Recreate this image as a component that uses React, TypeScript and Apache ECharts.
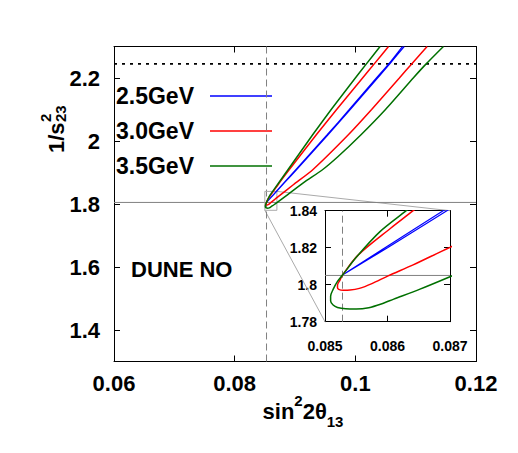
import React, { useEffect, useRef } from 'react';
import * as echarts from 'echarts';

// ---- data ----
const xTicks = [0.06, 0.08, 0.1, 0.12];
const yTicks = [1.4, 1.6, 1.8, 2.0, 2.2];
const insetXTicks = [0.085, 0.086, 0.087];
const insetYTicks = [1.78, 1.8, 1.82, 1.84];

const energies = ['2.5GeV', '3.0GeV', '3.5GeV'];
const colors = ['#0000ff', '#ff0000', '#007000'];

// 2.5 GeV: upper strand (top -> vertex) then lower strand (vertex -> top)
const curve25: number[][] = [
  [0.1078, 2.3], [0.1055, 2.244], [0.1035, 2.2], [0.099, 2.1], [0.0953, 2.019],
  [0.0901, 1.908], [0.0883, 1.87], [0.08689, 1.84], [0.08596, 1.82], [0.08528, 1.8052],
  [0.086, 1.82], [0.08695, 1.84], [0.08838, 1.87], [0.0902, 1.908], [0.09543, 2.019],
  [0.09915, 2.1], [0.10368, 2.2], [0.10568, 2.244], [0.1081, 2.3],
];

// 3.0 GeV
const curve30: number[][] = [
  [0.1055, 2.3], [0.1031, 2.244], [0.1012, 2.2], [0.0969, 2.1], [0.0935, 2.019],
  [0.089, 1.908], [0.0875, 1.87], [0.08641, 1.84], [0.08605, 1.8305], [0.08553, 1.816],
  [0.08528, 1.8052], [0.08524, 1.8025], [0.0852, 1.7998], [0.0852, 1.7984], [0.08522, 1.7975],
  [0.08529, 1.797], [0.0854, 1.7971], [0.08555, 1.798], [0.08575, 1.8006], [0.08601, 1.8048],
  [0.08641, 1.8107], [0.087, 1.8202], [0.08977, 1.862], [0.0929, 1.908], [0.0988, 2.019],
  [0.1027, 2.1], [0.1073, 2.2], [0.1093, 2.244], [0.1119, 2.3],
];

// 3.5 GeV
const curve35: number[][] = [
  [0.1041, 2.3], [0.1018, 2.244], [0.1, 2.2], [0.096, 2.1], [0.0929, 2.019],
  [0.0888, 1.908], [0.0874, 1.87], [0.0863, 1.84], [0.08588, 1.8287], [0.08551, 1.8152],
  [0.08528, 1.8052], [0.0852, 1.8018], [0.08513, 1.7975], [0.08509, 1.7938], [0.08509, 1.7912],
  [0.08513, 1.789], [0.0852, 1.7877], [0.08533, 1.787], [0.0855, 1.7869], [0.0857, 1.7876],
  [0.0859, 1.7896], [0.0861, 1.7922], [0.08652, 1.7976], [0.087, 1.8043], [0.0888, 1.83],
  [0.0916, 1.87], [0.0945, 1.908], [0.0971, 1.95], [0.1009, 2.019], [0.105, 2.1],
  [0.1096, 2.2], [0.1117, 2.244], [0.1146, 2.3],
];

const curves = [curve25, curve30, curve35];

const refY = 1.805; // solid horizontal line
const refX = 0.08528; // dashed vertical line
const boundY = 2.245; // dotted horizontal line
const mainRange = { x: [0.06, 0.12], y: [1.3, 2.3] };
const insetRange = { x: [0.085, 0.087], y: [1.78, 1.84] };

const FONT = '"Liberation Sans", Arial, Helvetica, sans-serif';

function valueAxis(grid: number, range: number[], ticks: number[], position: string, showLabel: boolean, fontSize: number, margin: number) {
  return {
    type: 'value',
    gridIndex: grid,
    min: range[0],
    max: range[1],
    position,
    axisLine: { show: true, onZero: false, lineStyle: { color: '#000', width: 1 } },
    axisTick: { show: true, inside: true, length: 6, customValues: ticks, lineStyle: { color: '#000', width: 1 } },
    axisLabel: {
      show: showLabel,
      customValues: ticks,
      margin,
      fontSize,
      fontWeight: 'bold',
      fontFamily: FONT,
      color: '#000',
      showMinLabel: true,
      showMaxLabel: true,
    },
    splitLine: { show: false },
    axisPointer: { show: false },
  };
}

function lineSeries(data: number[][], axis: number, color: string, width: number, type: any = 'solid', z = 3, smooth: any = false) {
  return {
    type: 'line',
    xAxisIndex: axis,
    yAxisIndex: axis,
    data,
    showSymbol: false,
    symbol: 'none',
    silent: true,
    clip: true,
    smooth,
    z,
    lineStyle: { color, width, type },
  };
}

export default function App() {
  const ref = useRef<HTMLDivElement>(null);
  useEffect(() => {
    const chart = echarts.init(ref.current!, null, { renderer: 'svg' });
    const series: any[] = [];
    // reference lines, main
    series.push(lineSeries([[mainRange.x[0], refY], [mainRange.x[1], refY]], 0, '#808080', 1, 'solid', 1));
    series.push(lineSeries([[refX, mainRange.y[0]], [refX, mainRange.y[1]]], 0, '#808080', 1, [7, 4], 1));
    series.push(lineSeries([[mainRange.x[0], boundY], [mainRange.x[1], boundY]], 0, '#000', 1.6, [3, 5], 1));
    series.push(lineSeries([
      [insetRange.x[0], insetRange.y[0]], [insetRange.x[1], insetRange.y[0]],
      [insetRange.x[1], insetRange.y[1]], [insetRange.x[0], insetRange.y[1]],
      [insetRange.x[0], insetRange.y[0]],
    ], 0, '#aaaaaa', 1, 'solid', 1));
    // reference lines, inset
    series.push(lineSeries([[insetRange.x[0], refY], [insetRange.x[1], refY]], 2, '#808080', 1, 'solid', 1));
    series.push(lineSeries([[refX, insetRange.y[0]], [refX, insetRange.y[1]]], 2, '#808080', 1, [7, 4], 1));
    curves.forEach((c, i) => {
      const w = i === 0 ? 1.2 : 1.5;
      series.push(lineSeries(c, 0, colors[i], w, 'solid', 3, 0.2));
      series.push(lineSeries(c, 2, colors[i], w, 'solid', 3, 0.3));
    });

    chart.setOption({
      animation: false,
      backgroundColor: '#fff',
      grid: [
        { left: 114, top: 46.5, width: 362, height: 315, outerBoundsMode: 'none', containLabel: false },
        { left: 325, top: 210.7, width: 125, height: 111, outerBoundsMode: 'none', containLabel: false },
      ],
      xAxis: [
        valueAxis(0, mainRange.x, xTicks, 'bottom', true, 22, 11),
        valueAxis(0, mainRange.x, xTicks, 'top', false, 22, 11),
        valueAxis(1, insetRange.x, insetXTicks, 'bottom', true, 14, 17),
        valueAxis(1, insetRange.x, insetXTicks, 'top', false, 14, 17),
      ],
      yAxis: [
        valueAxis(0, mainRange.y, yTicks, 'left', true, 22, 14),
        valueAxis(0, mainRange.y, yTicks, 'right', false, 22, 14),
        valueAxis(1, insetRange.y, insetYTicks, 'left', true, 14, 8),
        valueAxis(1, insetRange.y, insetYTicks, 'right', false, 14, 8),
      ],
      series,
    });

    const tr0 = chart.convertToPixel({ xAxisIndex: 0, yAxisIndex: 0 }, [insetRange.x[1], insetRange.y[1]]);
    const tr1 = chart.convertToPixel({ xAxisIndex: 2, yAxisIndex: 2 }, [insetRange.x[1], insetRange.y[1]]);
    const bl0 = chart.convertToPixel({ xAxisIndex: 0, yAxisIndex: 0 }, [insetRange.x[0], insetRange.y[0]]);
    const bl1 = chart.convertToPixel({ xAxisIndex: 2, yAxisIndex: 2 }, [insetRange.x[0], insetRange.y[0]]);

    const legendY = [96, 131, 166];
    const graphics: any[] = [
      { type: 'line', id: 'c1', z: 1, silent: true, shape: { x1: tr0[0], y1: tr0[1], x2: tr1[0], y2: tr1[1] }, style: { stroke: '#aaaaaa', lineWidth: 1 } },
      { type: 'line', id: 'c2', z: 1, silent: true, shape: { x1: bl0[0], y1: bl0[1], x2: bl1[0], y2: bl1[1] }, style: { stroke: '#aaaaaa', lineWidth: 1 } },
    ];
    energies.forEach((e, i) => {
      graphics.push({
        type: 'text', id: 'lt' + i, x: 116, y: legendY[i],
        style: { text: e, fill: '#000', font: `bold 23px ${FONT}`, textAlign: 'left', textVerticalAlign: 'middle' },
      });
      graphics.push({
        type: 'line', id: 'll' + i, shape: { x1: 210, y1: legendY[i], x2: 272, y2: legendY[i] },
        style: { stroke: colors[i], lineWidth: 1.5 },
      });
    });
    graphics.push({
      type: 'text', id: 'dune', x: 131, y: 269,
      style: { text: 'DUNE NO', fill: '#000', font: `bold 22px ${FONT}`, textAlign: 'left', textVerticalAlign: 'middle' },
    });
    graphics.push({
      type: 'text', id: 'xname', x: 303, y: 411,
      style: {
        text: '{a|sin}{s|2}{a|2θ}{b|13}',
        textAlign: 'center', textVerticalAlign: 'middle',
        rich: {
          a: { fontSize: 22, fontWeight: 'bold', fontFamily: FONT, lineHeight: 36, fill: '#000' },
          s: { fontSize: 15, fontWeight: 'bold', fontFamily: FONT, lineHeight: 22, verticalAlign: 'top', fill: '#000' },
          b: { fontSize: 15, fontWeight: 'bold', fontFamily: FONT, lineHeight: 14, verticalAlign: 'bottom', fill: '#000' },
        },
      },
    });
    graphics.push({
      type: 'group', id: 'yname', x: 55, y: 129, rotation: Math.PI / 2,
      children: [
        { type: 'text', x: -24, y: 1.5, style: { text: '1/s', fill: '#000', font: `bold 22px ${FONT}`, textAlign: 'left', textVerticalAlign: 'middle' } },
        { type: 'text', x: 7, y: -10, style: { text: '2', fill: '#000', font: `bold 15px ${FONT}`, textAlign: 'left', textVerticalAlign: 'middle' } },
        { type: 'text', x: 7, y: 5, style: { text: '23', fill: '#000', font: `bold 15px ${FONT}`, textAlign: 'left', textVerticalAlign: 'middle' } },
      ],
    });
    chart.setOption({ graphic: graphics });

    return () => chart.dispose();
  }, []);
  return <div ref={ref} style={{ position: 'absolute', left: 0, top: 0, width: 518, height: 453, background: '#fff' }} />;
}
